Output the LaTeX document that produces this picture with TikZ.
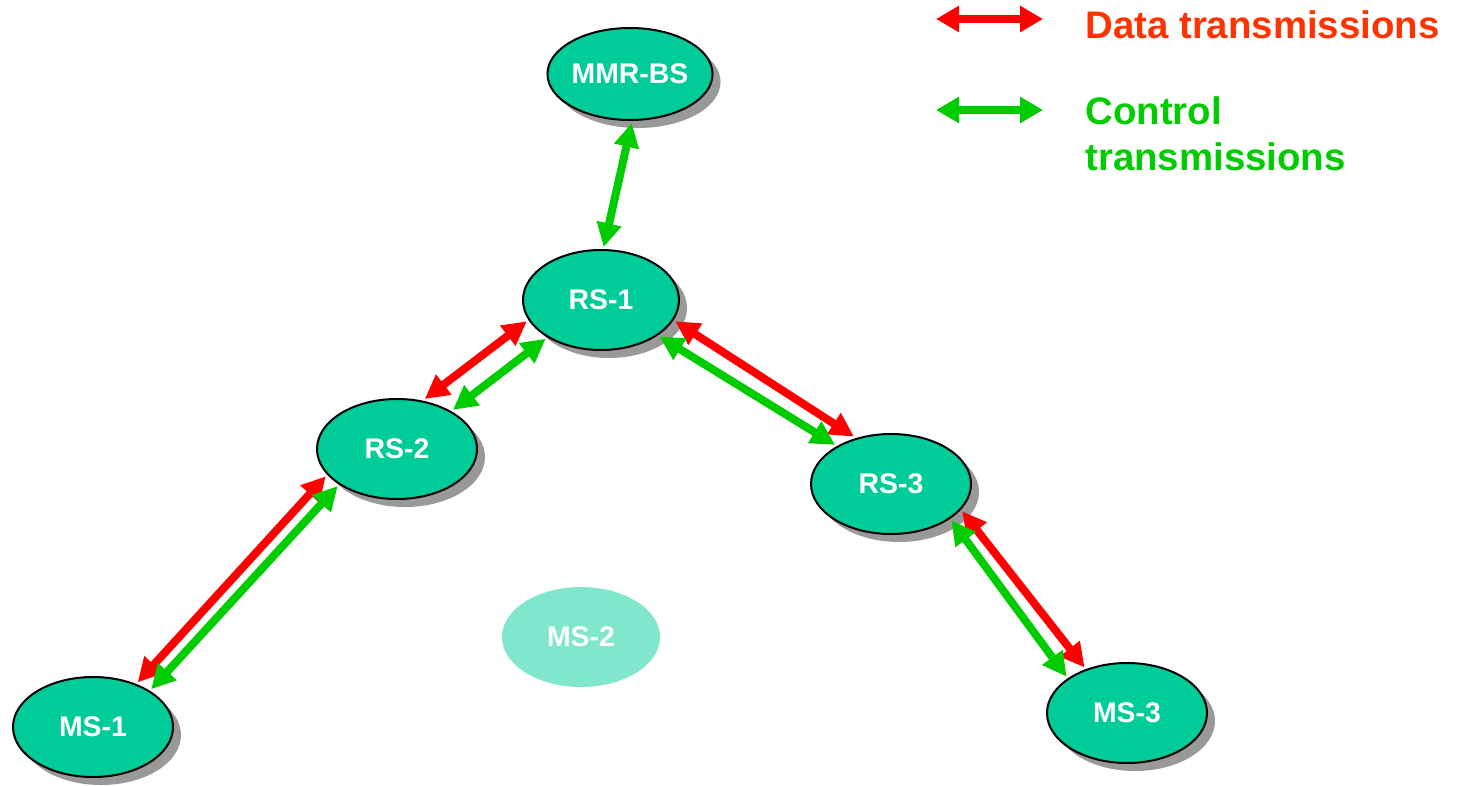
\documentclass[tikz,border=0pt]{standalone}
\usepackage{fontspec}
\setmainfont{Liberation Sans}
\usetikzlibrary{arrows.meta,shadows,shapes.geometric}
\definecolor{nodefill}{HTML}{00CC99}
\definecolor{msfade}{HTML}{80E6CC}
\definecolor{datared}{HTML}{FF0000}
\definecolor{ctrlgreen}{HTML}{00CC00}
\definecolor{datatext}{HTML}{FF3300}
\begin{document}
\begin{tikzpicture}[x=0.5pt,y=-0.5pt,
  station/.style={ellipse, draw=black, line width=1pt, fill=nodefill,
    minimum width=80pt, minimum height=50pt, inner sep=0pt, outer sep=1.5pt,
    text=white, font=\fontsize{14.2}{16}\selectfont\bfseries,
    drop shadow={shadow xshift=4pt, shadow yshift=-4pt, fill=black!40, opacity=1}},
  faded/.style={ellipse, fill=msfade, minimum width=79pt, minimum height=50pt,
    inner sep=0pt, text=white, font=\fontsize{14.2}{16}\selectfont\bfseries},
  link/.style={line width=4pt, {Triangle[length=12pt,width=12pt]}-{Triangle[length=12pt,width=12pt]}},
  data/.style={link, draw=datared},
  ctrl/.style={link, draw=ctrlgreen},
  legend/.style={line width=4.4pt, {Triangle[length=11.5pt,width=12.5pt]}-{Triangle[length=11.5pt,width=12.5pt]}},
  legtext/.style={inner sep=0pt, font=\fontsize{19.2}{23}\selectfont\bfseries}
]
\useasboundingbox (0,0) rectangle (1460,786);

% stations
\node[station, minimum height=46pt] (mmr) at (630,74) {MMR-BS};
\node[station, minimum width=78pt] (rs1) at (601,300) {RS-1};
\node[station] (rs2) at (397,449) {RS-2};
\node[station] (rs3) at (891,484) {RS-3};
\node[station] (ms1) at (93,727) {MS-1};
\node[faded] (ms2) at (581,637) {MS-2};
\node[station] (ms3) at (1127,713) {MS-3};

% links
\draw[ctrl] (mmr.272) -- (rs1.87);

\draw[data] (rs1.196) -- (rs2.61);
\draw[ctrl] (rs1.215) -- (rs2.35);

\draw[data] (rs1.344) -- (rs3.128);
\draw[ctrl] (rs1.328) -- (rs3.145);

\draw[data] (rs2.201) -- (ms1.45);
\draw[ctrl] (rs2.212) -- (ms1.33);

\draw[data] (rs3.339) -- (ms3.133);
\draw[ctrl] (rs3.329) -- (ms3.149);

% legend
\coordinate (dl) at (936,19);
\coordinate (dr) at (1043,19);
\coordinate (cl) at (936,110);
\coordinate (cr) at (1043,110);
\draw[legend, draw=datared] (dl) -- (dr);
\draw[legend, draw=ctrlgreen] (cl) -- (cr);
\node[legtext, anchor=base west, text=datatext] (datalbl) at (1085,39) {Data transmissions};
\node[legtext, anchor=north west, align=left, text=ctrlgreen] (ctrllbl) at (1085,96) {Control\\transmissions};
\end{tikzpicture}
\end{document}
